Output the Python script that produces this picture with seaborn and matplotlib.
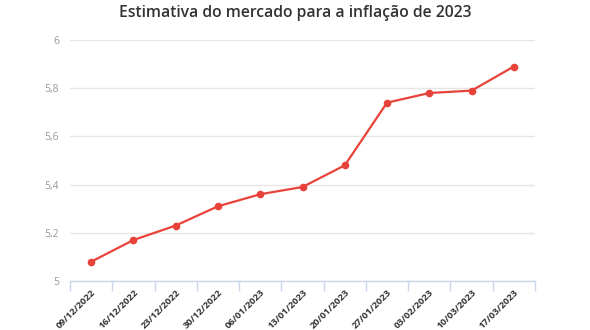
import matplotlib
matplotlib.use("Agg")
import matplotlib.pyplot as plt
import seaborn as sns
import pandas as pd
import numpy as np

datas = ["09/12/2022", "16/12/2022", "23/12/2022", "30/12/2022", "06/01/2023",
         "13/01/2023", "20/01/2023", "27/01/2023", "03/02/2023", "10/03/2023",
         "17/03/2023"]
estimativa = [5.08, 5.17, 5.23, 5.31, 5.36, 5.39, 5.48, 5.74, 5.78, 5.79, 5.89]
y_ticks = [5, 5.2, 5.4, 5.6, 5.8, 6]
y_labels = ["5", "5,2", "5,4", "5,6", "5,8", "6"]

sns.set_theme(style="white")
plt.rcParams["font.family"] = ["Open Sans", "DejaVu Sans"]

df = pd.DataFrame({"data": datas, "valor": estimativa})

fig = plt.figure(figsize=(5.9, 3.3), dpi=100)
ax = fig.add_axes([70 / 590, 1 - 281 / 330, 465 / 590, 241 / 330])

pos = np.arange(len(datas))
sns.lineplot(x=pos, y=df["valor"], ax=ax, color="#e8433a", linewidth=1.6,
             marker="o", markersize=5.5, markeredgewidth=0, markeredgecolor="#e8433a")

ax.set_xlim(-0.5, len(datas) - 0.5)
ax.set_ylim(5, 6)
ax.set_yticks(y_ticks)
ax.set_yticklabels(y_labels, color="#999999", fontsize=7.5)
ax.tick_params(axis="y", left=False, length=0, pad=8)

# boundaries between categories carry the tick marks, centers carry the labels
ax.set_xticks(np.arange(-0.5, len(datas)), minor=False)
ax.set_xticklabels([])
ax.set_xticks(pos, minor=True)
ax.set_xticklabels(datas, minor=True, rotation=45, ha="right",
                   rotation_mode="anchor", fontsize=6.8, color="#333333",
                   fontweight="bold")
ax.tick_params(axis="x", which="major", bottom=True, length=7, width=1,
               color="#ccd6eb", direction="out")
ax.tick_params(axis="x", which="minor", bottom=False, length=0, pad=5)

ax.grid(axis="y", color="#e6e6e6", linewidth=1)
ax.grid(axis="x", visible=False)
for side in ["top", "right", "left"]:
    ax.spines[side].set_visible(False)
ax.spines["bottom"].set_color("#ccd6eb")
ax.spines["bottom"].set_linewidth(1)
ax.set_xlabel("")
ax.set_ylabel("")

fig.text(0.5, 1 - 13 / 330, "Estimativa do mercado para a inflação de 2023",
         ha="center", va="center", fontsize=11.3, color="#333333", fontweight="semibold")

fig.savefig("out.png", dpi=100, facecolor="white")
